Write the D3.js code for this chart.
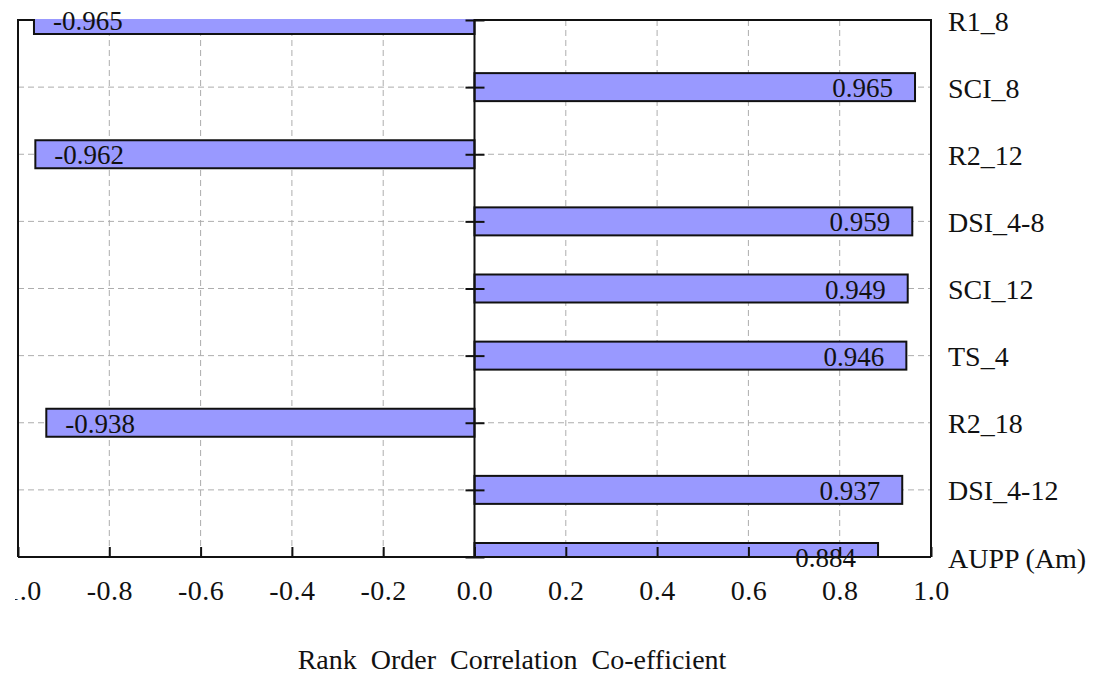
<!DOCTYPE html>
<html>
<head>
<meta charset="utf-8">
<script src="https://cdn.jsdelivr.net/npm/d3@7"></script>
<style>
  html, body { margin: 0; padding: 0; background: #fff; }
  svg { display: block; }
  text { font-family: "Liberation Serif", "Times New Roman", serif; fill: #111; }
</style>
</head>
<body>
<svg id="chart" width="1105" height="675"></svg>
<script>
// Rank order correlation coefficients for each input parameter
const categories = ["R1_8", "SCI_8", "R2_12", "DSI_4-8", "SCI_12", "TS_4", "R2_18", "DSI_4-12", "AUPP (Am)"];
const values = [-0.965, 0.965, -0.962, 0.959, 0.949, 0.946, -0.938, 0.937, 0.884];
const valueLabels = ["-0.965", "0.965", "-0.962", "0.959", "0.949", "0.946", "-0.938", "0.937", "0.884"];
const xTicks = [-1.0, -0.8, -0.6, -0.4, -0.2, 0.0, 0.2, 0.4, 0.6, 0.8, 1.0];
const xTickLabels = ["-1.0", "-0.8", "-0.6", "-0.4", "-0.2", "0.0", "0.2", "0.4", "0.6", "0.8", "1.0"];
const axisTitle = "Rank Order Correlation Co-efficient";

const plot = { left: 18, right: 931, top: 20, bottom: 557 };
const barHeight = 28;

const svg = d3.select("#chart");

const x = d3.scaleLinear().domain([-1, 1]).range([plot.left, plot.right]);
const y = d3.scalePoint().domain(categories).range([plot.top, plot.bottom]).padding(0);

const defs = svg.append("defs");
defs.append("clipPath").attr("id", "plot-clip")
  .append("rect")
  .attr("x", plot.left).attr("y", plot.top - 1)
  .attr("width", plot.right - plot.left).attr("height", plot.bottom - plot.top + 1);
// the tick-label strip starts a little left of the frame
defs.append("clipPath").attr("id", "axis-clip")
  .append("rect")
  .attr("x", 15).attr("y", -20)
  .attr("width", 1100).attr("height", 120);

// dashed grid
const grid = svg.append("g").attr("stroke", "#adadad").attr("stroke-width", 1)
  .attr("stroke-dasharray", "6,4").attr("fill", "none");
grid.selectAll("line.h").data(categories).join("line")
  .attr("class", "h")
  .attr("x1", plot.left).attr("x2", plot.right)
  .attr("y1", d => y(d)).attr("y2", d => y(d));
grid.selectAll("line.v").data(xTicks.filter(t => Math.abs(t) > 1e-9 && Math.abs(t) < 1)).join("line")
  .attr("class", "v")
  .attr("x1", d => x(d)).attr("x2", d => x(d))
  .attr("y1", plot.top).attr("y2", plot.bottom);

// frame (top, left, right)
svg.append("path")
  .attr("d", `M${plot.left},${plot.bottom}V${plot.top}H${plot.right}V${plot.bottom}`)
  .attr("fill", "none").attr("stroke", "#111").attr("stroke-width", 2);

// bars
svg.append("g").attr("clip-path", "url(#plot-clip)")
  .selectAll("rect").data(values).join("rect")
  .attr("x", d => Math.min(x(0), x(d)))
  .attr("width", d => Math.abs(x(d) - x(0)))
  .attr("y", (d, i) => y(categories[i]) - barHeight / 2)
  .attr("height", barHeight)
  .attr("fill", "#9999ff")
  .attr("stroke", "#111").attr("stroke-width", 2);

// bottom axis: inner ticks and labels
const xAxis = d3.axisBottom(x)
  .tickValues(xTicks)
  .tickFormat((d, i) => xTickLabels[i])
  .tickSizeInner(-10).tickSizeOuter(0);
const gx = svg.append("g")
  .attr("transform", `translate(0,${plot.bottom})`)
  .attr("clip-path", "url(#axis-clip)")
  .call(xAxis);
gx.select(".domain").attr("stroke", "#111").attr("stroke-width", 2)
  .attr("d", `M${plot.left},0H${plot.right}`);
gx.selectAll(".tick line").attr("stroke", "#111").attr("stroke-width", 2);
gx.selectAll(".tick text")
  .attr("y", 43).attr("dy", null)
  .attr("font-size", 28).attr("fill", "#111")
  .style("font-family", "'Liberation Serif', 'Times New Roman', serif")
  .style("letter-spacing", "0.5px");

// zero axis with ticks crossing it
const zeroAxis = d3.axisLeft(y).tickFormat("").tickSizeInner(9).tickSizeOuter(0);
const gz = svg.append("g").attr("transform", `translate(${x(0)},0)`).call(zeroAxis);
gz.select(".domain").attr("stroke", "#111").attr("stroke-width", 2)
  .attr("d", `M0,${plot.top}V${plot.bottom}`);
gz.selectAll(".tick line").attr("x1", -9).attr("x2", 10).attr("stroke", "#111").attr("stroke-width", 2);

// category labels on the right
const catAxis = d3.axisRight(y).tickSize(0).tickPadding(17);
const gc = svg.append("g").attr("transform", `translate(${plot.right},0)`).call(catAxis);
gc.select(".domain").remove();
gc.selectAll(".tick text")
  .attr("dy", "0.36em")
  .attr("font-size", 28).attr("fill", "#111")
  .style("font-family", "'Liberation Serif', 'Times New Roman', serif");

// value labels inside bars
svg.append("g").selectAll("text").data(values).join("text")
  .attr("x", d => d < 0 ? x(d) + 19 : x(d) - 22)
  .attr("y", (d, i) => y(categories[i]) + 10)
  .attr("text-anchor", d => d < 0 ? "start" : "end")
  .attr("font-size", 27)
  .text((d, i) => valueLabels[i]);

// axis title
svg.append("text")
  .attr("x", 512).attr("y", 669)
  .attr("text-anchor", "middle")
  .attr("font-size", 28)
  .style("word-spacing", "7px")
  .text(axisTitle);
</script>
</body>
</html>
